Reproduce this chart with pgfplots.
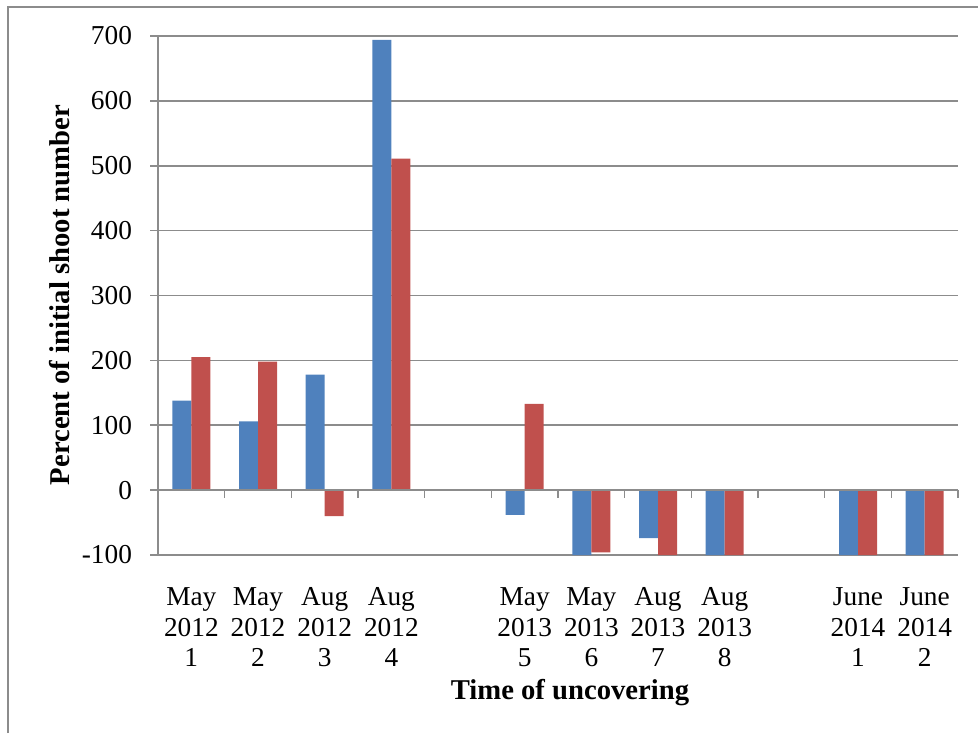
\documentclass[border=0pt]{standalone}
\usepackage{fontspec}
\setmainfont{Liberation Serif}
\usepackage{pgfplots}
\pgfplotsset{compat=1.18}
\definecolor{barblue}{HTML}{4F81BD}
\definecolor{barred}{HTML}{C0504D}
\definecolor{gridgray}{HTML}{8C8C8C}
\begin{document}
\begin{tikzpicture}
\useasboundingbox (0,0) rectangle (733.5pt,549.75pt);
\draw[gridgray, line width=1pt] (6pt,0) -- (6pt,544.5pt) -- (733.5pt,544.5pt);
\begin{axis}[
  at={(118.5pt,133.5pt)}, anchor=south west,
  scale only axis, width=600pt, height=389.25pt,
  xmin=0, xmax=12, ymin=-100, ymax=700,
  ybar=0pt, bar width=14.25pt,
  axis x line*=bottom, axis y line*=left,
  axis line style={gridgray, line width=1.2pt},
  every outer x axis line/.append style={-}, every outer y axis line/.append style={-},
  ytick={-100,0,100,200,300,400,500,600,700},
  ymajorgrids, grid style={gridgray, line width=1.2pt},
  ytick style={gridgray, line width=1.2pt},
  tick align=outside, major tick length=6pt,
  xtick={0.5,1.5,2.5,3.5,5.5,6.5,7.5,8.5,10.5,11.5},
  xticklabels={May\\2012\\1, May\\2012\\2, Aug\\2012\\3, Aug\\2012\\4, May\\2013\\5, May\\2013\\6, Aug\\2013\\7, Aug\\2013\\8, June\\2014\\1, June\\2014\\2},
  xtick style={draw=none},
  xticklabel style={align=center, font=\fontsize{20.5pt}{22.9pt}\selectfont, yshift=-15pt},
  yticklabel style={font=\fontsize{20.5pt}{22.9pt}\selectfont, xshift=-10pt},
  /pgf/number format/assume math mode=true,
  clip=false,
]
\addplot[fill=barblue, draw=none] coordinates {(0.5,138) (1.5,106) (2.5,178) (3.5,694) (5.5,-38) (6.5,-100) (7.5,-74) (8.5,-100) (10.5,-100) (11.5,-100)};
\addplot[fill=barred, draw=none] coordinates {(0.5,205) (1.5,198) (2.5,-40) (3.5,511) (5.5,133) (6.5,-96) (7.5,-100) (8.5,-100) (10.5,-100) (11.5,-100)};
\draw[gridgray, line width=1.2pt] (axis cs:0,0) -- (axis cs:12,0);
\pgfplotsinvokeforeach{0,...,12}{\draw[gridgray, line width=1.2pt] (axis cs:#1,0) -- (axis cs:#1,-12);}
\end{axis}
\node[rotate=90, font=\bfseries\fontsize{21.5pt}{24pt}\selectfont] at (45pt,328.5pt) {Percent of initial shoot number};
\node[font=\bfseries\fontsize{21.5pt}{24pt}\selectfont] at (427.5pt,30.5pt) {Time of uncovering};
\end{tikzpicture}
\end{document}
